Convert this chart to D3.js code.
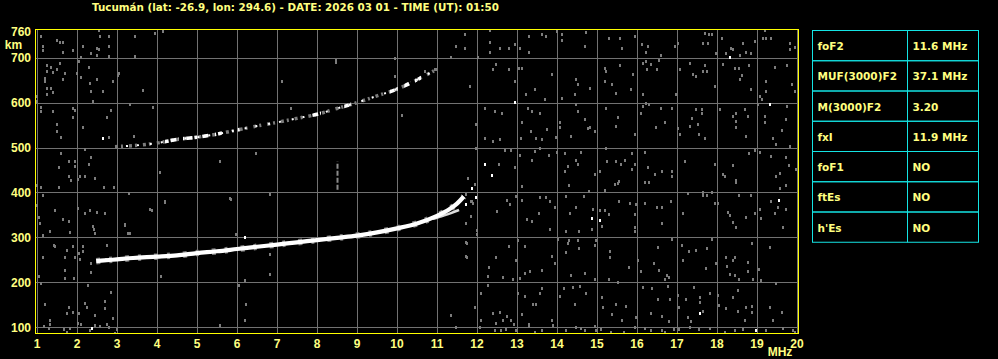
<!DOCTYPE html>
<html>
<head>
<meta charset="utf-8">
<script src="https://cdn.jsdelivr.net/npm/d3@7"></script>
<style>
  body { margin: 0; background: #000; }
  svg { display: block; }
  text { font-family: "Liberation Sans", Arial, sans-serif; font-weight: bold; fill: #ffff80; }
  text.wide { font-family: "DejaVu Sans", Verdana, sans-serif; }
</style>
</head>
<body>
<div class="iono"></div>
<script>
// ionogram values
var title = "Tucumán (lat: -26.9, lon: 294.6) - DATE: 2026 03 01 - TIME (UT): 01:50";
var freqTicks = d3.range(1, 21);
var heightTicks = [100, 200, 300, 400, 500, 600, 700];

// main F trace (ordinary)
var oFreq = [2.48, 2.6, 3.0, 3.4, 4.0, 4.5, 5.0, 5.5, 6.0, 6.5, 7.0, 7.5, 8.0, 8.5, 9.0, 9.5, 10.0, 10.5, 11.0, 11.3, 11.5, 11.67];
var oHeight = [247, 248, 251, 254, 257, 260, 265, 269, 274, 279, 284, 289, 294, 299, 304, 311, 320, 331, 348, 362, 375, 391];
// split near the top of the trace
var xFreq = [10.9, 11.15, 11.35, 11.55];
var xHeight = [341, 348, 354, 361];
// second hop trace
var uFreq = [2.95, 3.5, 4.0, 4.5, 5.0, 5.5, 6.0, 6.5, 7.0, 7.5, 8.0, 8.5, 9.0, 9.5, 10.0, 10.5, 10.95];
var uHeight = [502, 505, 510, 518, 523, 530, 539, 548, 556, 565, 574, 587, 600, 615, 630, 651, 672];
// frequency spans where the second hop echo is strong
var uStrong = [[4.2, 4.55], [4.65, 5.0], [5.1, 5.3], [5.45, 5.62], [6.02, 6.1], [7.88, 8.1], [8.68, 8.85], [9.82, 10.02], [10.18, 10.33], [10.45, 10.6]];
// short vertical streak
var streakFreq = 8.49;
var streakHeights = [406, 469];

var tableParams = ["foF2", "MUF(3000)F2", "M(3000)F2", "fxI", "foF1", "ftEs", "h'Es"];
var tableValues = ["11.6 MHz", "37.1 MHz", "3.20", "11.9 MHz", "NO", "NO", "NO"];

var brightDots = [[12.94,602],[18.33,702],[19.33,598],[12.19,463],[12.38,439],[11.88,411],[11.98,390],
  [14.88,342],[15.08,339],[19.55,383],[17.58,131],[18.98,94],[2.65,521],[2.38,99],[11.72,374],[6.2,300]];

var noise = [
  [12.33,761],[12.33,736],[12.33,713],[12.58,721],[12.79,721],[12.94,730],[13.08,722],[13.29,748],[13.29,713],
  [13.63,753],[13.73,748],[14.0,759],[14.13,752],[14.13,739],[14.73,758],[14.69,726],[15.3,743],[15.58,743],
  [15.63,721],[15.94,748],[16.13,730],[16.28,726],[16.23,713],[16.55,696],[16.61,707],[16.94,726],[17.03,733],
  [17.69,756],[17.8,753],[17.88,752],[17.78,733],[17.65,733],[17.98,711],[18.13,743],[18.23,711],[18.36,722],
  [18.4,719],[18.57,707],[18.65,733],[18.73,713],[18.86,711],[18.94,737],[19.15,743],[19.23,743],[19.36,743],
  [19.19,761],[19.83,733],[19.83,719],[19.94,724],
  [12.03,701],[12.48,687],[12.4,674],[12.8,674],[12.94,648],[13.04,678],[13.13,678],[13.44,630],[13.23,620],
  [13.88,664],[13.69,607],[14.13,611],[14.44,619],[14.48,652],[14.53,641],[14.83,633],[15.19,678],[15.22,670],
  [15.19,648],[15.38,642],[15.48,622],[15.58,684],[15.84,630],[15.9,663],[16.15,689],[16.23,693],[16.36,685],
  [16.5,674],[16.55,694],[16.25,674],[16.15,620],[16.97,620],[17.08,674],[17.33,689],[17.4,663],[17.48,659],
  [17.69,684],[17.65,670],[17.75,670],[17.94,637],[18.15,685],[18.44,678],[18.55,678],[18.63,661],[18.58,652],
  [18.8,684],[18.86,630],[19.07,615],[19.13,607],[19.23,648],[19.23,626],[19.44,679],[19.75,684],[19.88,641],
  [19.94,626],[11.83,637],
  [12.19,589],[12.44,581],[12.63,576],[13.13,558],[13.28,589],[13.38,581],[13.58,578],[13.75,541],[13.36,537],
  [13.47,522],[13.63,519],[13.97,524],[14.07,546],[14.08,556],[14.36,526],[14.48,596],[14.53,581],[14.69,563],
  [14.78,544],[14.83,546],[14.94,537],[15.23,589],[15.53,568],[15.48,547],[15.94,531],[16.11,578],[16.15,593],
  [16.22,600],[16.29,596],[16.61,587],[16.48,546],[16.69,556],[16.88,589],[17.03,544],[17.08,531],[17.33,548],
  [17.38,565],[17.53,553],[17.55,531],[17.69,522],[17.48,585],[17.63,585],[17.63,576],[18.08,585],[18.4,570],
  [18.48,576],[18.48,559],[18.48,546],[18.69,585],[18.78,570],[18.73,526],[19.03,598],[19.19,570],[19.19,558],
  [19.4,522],[19.48,509],[19.63,539],[19.73,563],[19.83,504],[19.75,593],[12.19,522],[12.4,515],[12.57,519],
  [13.09,521],[11.98,553],
  [12.69,494],[12.55,464],[12.86,494],[13.07,483],[12.94,456],[13.38,472],[13.44,493],[13.58,500],[13.8,483],
  [14.0,489],[14.19,487],[14.19,448],[14.28,459],[14.47,472],[14.53,464],[14.61,489],[14.94,442],[15.08,447],
  [15.23,500],[15.25,469],[15.48,469],[15.55,426],[15.61,464],[15.69,472],[15.88,487],[15.88,452],[15.94,464],
  [16.19,491],[16.28,457],[16.44,442],[16.63,447],[16.88,447],[16.88,437],[17.19,469],[17.94,463],[18.15,442],
  [18.19,437],[18.4,461],[18.48,427],[18.8,487],[18.94,494],[19.08,489],[19.36,481],[19.48,437],[19.57,444],
  [19.73,478],[19.8,461],[19.97,452],
  [13.13,414],[14.3,416],[15.19,405],[15.44,419],[15.53,421],[16.19,424],[16.3,424],[17.28,399],[17.65,401],
  [17.88,401],[18.48,424],[19.73,416],[19.58,409],
  [11.88,381],[11.86,347],[12.5,359],[12.75,384],[12.83,374],[12.98,392],[13.13,383],[13.25,340],[13.38,337],
  [13.58,390],[13.72,389],[13.82,381],[13.94,368],[13.55,355],[13.83,318],[14.23,392],[14.23,315],[14.33,355],
  [14.48,368],[14.55,315],[14.67,392],[14.8,404],[14.9,364],[14.88,318],[15.13,325],[15.08,362],[15.19,362],
  [15.3,352],[15.55,381],[15.82,377],[15.98,374],[15.94,352],[15.94,322],[15.94,315],[16.19,377],[16.5,368],
  [16.63,367],[16.63,331],[16.86,381],[17.15,355],[17.65,394],[17.75,394],[17.94,377],[18.03,377],[18.28,357],
  [18.32,350],[18.4,335],[18.48,322],[18.55,394],[18.73,346],[18.86,394],[18.94,355],[19.08,364],[19.11,342],
  [19.36,381],[19.44,355],[19.53,368],[19.65,324],[19.73,364],
  [13.03,293],[13.19,281],[12.8,281],[12.47,256],[12.3,235],[12.28,213],[12.65,211],[12.9,207],[12.98,250],
  [13.08,209],[13.19,221],[13.33,226],[13.63,227],[13.88,259],[13.94,244],[14.03,296],[14.28,287],[14.3,294],
  [14.23,268],[14.36,216],[14.53,294],[14.55,276],[14.69,220],[14.94,283],[14.94,207],[14.97,294],[15.33,270],
  [15.33,257],[15.3,207],[15.53,201],[15.8,233],[16.03,250],[16.11,226],[16.42,242],[16.53,279],[16.55,227],
  [16.69,207],[16.75,216],[16.8,211],[16.88,296],[17.13,283],[17.15,250],[17.3,270],[17.48,272],[17.75,276],
  [17.73,231],[17.88,296],[17.98,244],[18.23,256],[18.25,236],[18.4,250],[18.44,256],[18.32,219],[18.44,216],
  [18.55,207],[18.78,246],[18.78,226],[18.9,207],[18.88,288],[19.05,229],[19.11,205],[19.32,279],
  [12.11,177],[12.28,194],[12.11,116],[11.94,144],[12.4,131],[12.58,133],[12.48,110],[12.65,116],[12.75,124],
  [12.86,116],[12.92,107],[13.03,177],[13.13,130],[13.19,170],[13.3,107],[13.4,152],[13.48,152],[13.57,177],
  [13.63,187],[13.88,116],[13.9,105],[14.08,170],[14.17,187],[14.4,190],[14.58,192],[14.44,152],[14.73,176],
  [14.94,103],[15.13,168],[15.15,144],[15.38,130],[15.48,152],[15.63,116],[15.73,147],[15.97,122],[16.15,190],
  [16.36,131],[16.38,187],[16.53,162],[16.63,125],[16.78,192],[16.83,162],[16.8,113],[17.03,172],[17.05,144],
  [17.23,162],[17.28,122],[17.36,113],[17.42,189],[17.58,168],[17.58,157],[17.65,135],[17.83,176],[18.03,172],
  [18.05,150],[18.23,142],[18.4,167],[18.53,183],[18.53,135],[18.72,146],[18.88,147],[18.88,133],[18.69,116],
  [19.33,146],[19.4,116],[19.63,133],[19.48,198],
  [12.07,101],[12.44,94],[12.61,94],[12.73,96],[12.98,94],[13.3,103],[13.44,90],[13.63,93],[14.23,93],
  [14.48,101],[14.61,98],[14.69,93],[14.98,94],[15.11,96],[15.36,90],[15.67,90],[15.94,101],[16.19,98],
  [16.36,93],[16.63,94],[16.69,90],[16.92,96],[17.05,96],[17.32,100],[17.55,96],[17.82,98],[18.19,90],
  [18.44,94],[18.65,96],[19.23,93],[19.65,98],[19.9,94],[19.94,90],
  [1.1,748],[1.15,726],[1.15,717],[1.5,740],[1.57,735],[1.65,734],[1.65,713],[1.9,717],[2.15,726],[2.35,711],
  [2.5,722],[2.54,719],[2.5,707],[2.57,748],[2.55,761],[2.79,748],[2.79,726],[2.81,704],[2.1,702],[2.04,693],
  [1.25,683],[1.35,680],[1.25,670],[1.21,655],[1.21,648],[1.5,675],[1.57,689],[1.4,668],[1.69,665],[1.65,652],
  [2.0,666],[2.1,657],[2.29,680],[2.32,644],[2.35,625],[2.5,652],[1.25,633],[1.35,633],[1.4,623],[1.25,620],
  [1.0,614],[1.0,603],[1.1,590],[1.1,581],[1.4,581],[1.9,588],[1.96,584],[1.9,568],[1.5,553],[1.5,536],
  [1.6,523],[2.15,546],[2.4,603],[2.65,625],[2.9,648],[3.04,665],[3.46,704],[3.65,629],[3.9,590],[2.85,583],
  [2.75,569],[2.79,523],[3.32,598],[3.42,526],[3.96,756],[4.15,760],[3.46,748],[1.6,487],[1.54,456],[1.79,469],
  [1.96,469],[1.96,459],[2.21,496],[2.29,464],[2.35,478],[3.03,661],
  [1.0,416],[1.1,413],[1.15,394],[1.54,413],[1.79,436],[1.85,427],[2.02,431],[2.08,436],[2.21,436],[2.46,433],
  [2.67,413],[2.92,413],[1.0,372],[1.04,346],[1.07,331],[1.15,306],[1.32,315],[1.46,362],[1.65,340],[1.79,337],
  [1.82,311],[2.02,365],[2.21,355],[2.32,362],[2.4,325],[2.43,318],[2.5,357],[2.46,309],[2.71,355],[3.21,328],
  [3.32,309],[3.29,399],[3.88,362],[4.21,379],[1.42,283],[1.46,281],[1.75,271],[1.9,280],[2.15,281],[2.15,269],
  [2.04,266],[1.15,256],[1.71,256],[1.96,256],[2.08,252],[2.35,244],[2.75,283],[2.73,252],[1.04,213],[1.1,199],
  [1.71,228],[1.71,210],[1.93,210],[2.27,193],[2.35,222],[2.85,178],[4.1,213],[1.21,151],[1.32,117],[1.32,106],
  [1.79,145],[1.75,132],[1.9,134],[2.04,131],[2.02,110],[2.1,106],[2.21,153],[2.25,145],[2.46,128],[2.46,104],
  [2.71,158],[2.71,143],[2.75,106],[2.9,121],[3.0,95],[1.67,95],[1.75,89],[2.58,103],[2.79,101],[2.96,88],
  [1.83,99],[1.17,103],[1.29,99],[2.33,94],
  [4.08,446],[4.2,380],[3.83,363],[2.7,355],[3.2,330],[3.28,310],[2.74,283],[5.85,386],
  [7.13,648],[7.34,589],[6.48,487],[5.58,469],[5.83,387],[6.83,396],[5.98,307],[6.83,263],[6.83,219],[6.19,204],
  [6.05,193],[6.23,152],[6.19,115],[5.58,105],[8.48,696],[8.48,691],[9.94,699],[10.13,573],[11.34,702],
  [11.48,726],[11.69,722],[11.69,752],[11.83,637],[11.98,553],[11.98,500],[11.78,433],[11.94,419],[11.73,396],
  [11.86,381],[11.9,376],[11.86,348],[11.73,333],[11.73,289],[11.73,258],[11.94,144],[11.34,128],[11.48,100],
  [9.94,659],[10.69,670],[10.94,674],[10.98,674],[11.74,288],[11.74,256],[12.0,317],[12.0,308]
];

var svgWidth = 998;
var svgHeight = 359;
var plot = { left: 35.5, right: 798.5, top: 29.5, bottom: 333.5 };

var svg = d3.select(".iono")
    .append("svg")
    .attr("width", svgWidth)
    .attr("height", svgHeight);

svg.append("rect")
    .attr("width", svgWidth)
    .attr("height", svgHeight)
    .attr("fill", "#000");

var xScale = d3.scaleLinear().domain([1, 20]).range([37, 797]);
var yScale = d3.scaleLinear().domain([87, 764]).range([333, 29]);

var defs = svg.append("defs");
defs.append("clipPath").attr("id", "plotClip")
  .append("rect")
    .attr("x", plot.left)
    .attr("y", plot.top)
    .attr("width", plot.right - plot.left)
    .attr("height", plot.bottom - plot.top);

// only the strong spans of the second hop
defs.append("clipPath").attr("id", "strongClip")
  .selectAll("rect")
  .data(uStrong)
  .enter()
  .append("rect")
    .attr("x", d => xScale(d[0]))
    .attr("y", plot.top)
    .attr("width", d => xScale(d[1]) - xScale(d[0]))
    .attr("height", plot.bottom - plot.top);

// title
svg.append("text")
    .attr("class", "wide")
    .attr("x", 92)
    .attr("y", 11)
    .style("font-size", "10.35px")
    .text(title);

// grid
var grid = svg.append("g").attr("stroke", "#727272").attr("stroke-width", 1);
grid.selectAll("line.v")
  .data(freqTicks)
  .enter()
  .append("line")
    .attr("x1", d => Math.round(xScale(d)) + 0.5)
    .attr("x2", d => Math.round(xScale(d)) + 0.5)
    .attr("y1", plot.top)
    .attr("y2", plot.bottom);
grid.selectAll("line.h")
  .data(heightTicks)
  .enter()
  .append("line")
    .attr("x1", plot.left)
    .attr("x2", plot.right)
    .attr("y1", d => Math.round(yScale(d)) + 0.5)
    .attr("y2", d => Math.round(yScale(d)) + 0.5);

var marks = svg.append("g").attr("clip-path", "url(#plotClip)");

// background noise
marks.selectAll("rect.noise")
  .data(noise)
  .enter()
  .append("rect")
    .attr("x", d => Math.round(xScale(d[0])) - 1)
    .attr("y", d => Math.round(yScale(d[1])) - 1)
    .attr("width", 2)
    .attr("height", 3)
    .attr("fill", "#7c7c7c");

marks.selectAll("rect.bright")
  .data(brightDots)
  .enter()
  .append("rect")
    .attr("x", d => Math.round(xScale(d[0])) - 1)
    .attr("y", d => Math.round(yScale(d[1])) - 1)
    .attr("width", 2)
    .attr("height", 3)
    .attr("fill", "#fff");

var line = d3.line()
    .x(d => xScale(d[0]))
    .y(d => yScale(d[1]))
    .curve(d3.curveMonotoneX);

var oTrace = d3.zip(oFreq, oHeight);
var xTrace = d3.zip(xFreq, xHeight);
var uTrace = d3.zip(uFreq, uHeight);

// second hop: grey speckle, white dots, strong white patches
marks.append("path")
    .datum(uTrace)
    .attr("d", line)
    .attr("fill", "none")
    .attr("stroke", "#7c7c7c")
    .attr("stroke-width", 3.5)
    .attr("stroke-dasharray", "3 3 2 6");
marks.append("path")
    .datum(uTrace)
    .attr("d", line)
    .attr("fill", "none")
    .attr("stroke", "#fff")
    .attr("stroke-width", 2)
    .attr("stroke-dasharray", "2 11 2 9")
    .attr("stroke-dashoffset", 2);
marks.append("g")
    .attr("clip-path", "url(#strongClip)")
  .append("path")
    .datum(uTrace)
    .attr("d", line)
    .attr("fill", "none")
    .attr("stroke", "#fff")
    .attr("stroke-width", 3.5)
    .attr("stroke-dasharray", "6 2");

// main trace with grey fringe
marks.append("path")
    .datum(oTrace)
    .attr("d", line)
    .attr("fill", "none")
    .attr("stroke", "#7c7c7c")
    .attr("stroke-width", 6.5)
    .attr("stroke-dasharray", "4 9 3 13");
marks.append("path")
    .datum(xTrace)
    .attr("d", line)
    .attr("fill", "none")
    .attr("stroke", "#dcdcdc")
    .attr("stroke-width", 2.5);
marks.append("path")
    .datum(oTrace)
    .attr("d", line)
    .attr("fill", "none")
    .attr("stroke", "#fff")
    .attr("stroke-width", 4.2);

// vertical streak
marks.append("line")
    .attr("x1", Math.round(xScale(streakFreq)) + 0.5)
    .attr("x2", Math.round(xScale(streakFreq)) + 0.5)
    .attr("y1", yScale(streakHeights[0]))
    .attr("y2", yScale(streakHeights[1]))
    .attr("stroke", "#8a8a8a")
    .attr("stroke-width", 2)
    .attr("stroke-dasharray", "5 2");

// frame
svg.append("rect")
    .attr("x", plot.left)
    .attr("y", plot.top)
    .attr("width", plot.right - plot.left)
    .attr("height", plot.bottom - plot.top)
    .attr("fill", "none")
    .attr("stroke", "#ffff00")
    .attr("stroke-width", 1);

// axis labels
svg.selectAll("text.xtick")
  .data(freqTicks)
  .enter()
  .append("text")
    .attr("x", d => xScale(d))
    .attr("y", 348)
    .attr("text-anchor", "middle")
    .style("font-size", "12px")
    .text(d => d);

svg.append("text")
    .attr("x", 780)
    .attr("y", 355.5)
    .attr("text-anchor", "middle")
    .style("font-size", "12px")
    .text("MHz");

svg.selectAll("text.ytick")
  .data(heightTicks.concat([760]))
  .enter()
  .append("text")
    .attr("x", 31)
    .attr("y", d => d === 760 ? 35.5 : yScale(d) + 4.5)
    .attr("text-anchor", "end")
    .style("font-size", "12px")
    .text(d => d);

svg.append("text")
    .attr("x", 13.5)
    .attr("y", 49)
    .attr("text-anchor", "middle")
    .style("font-size", "12px")
    .text("km");

// parameter table
var table = { left: 812.5, mid: 907.5, right: 978.5, top: 30.5, row: 30.25 };
var rowG = svg.append("g").selectAll("g")
  .data(d3.zip(tableParams, tableValues))
  .enter()
  .append("g")
    .attr("transform", (d, i) => `translate(0, ${table.top + i * table.row})`);

rowG.append("rect")
    .attr("x", table.left)
    .attr("width", table.right - table.left)
    .attr("height", table.row)
    .attr("fill", "none")
    .attr("stroke", "#14e4e4");
rowG.append("line")
    .attr("x1", table.mid)
    .attr("x2", table.mid)
    .attr("y1", 0)
    .attr("y2", table.row)
    .attr("stroke", "#14e4e4");
rowG.append("text")
    .attr("class", "wide")
    .attr("x", table.left + 5)
    .attr("y", table.row / 2 + 4.5)
    .style("font-size", "10.5px")
    .text(d => d[0]);
rowG.append("text")
    .attr("class", "wide")
    .attr("x", table.mid + 5)
    .attr("y", table.row / 2 + 4.5)
    .style("font-size", "10.5px")
    .text(d => d[1]);
</script>
</body>
</html>
